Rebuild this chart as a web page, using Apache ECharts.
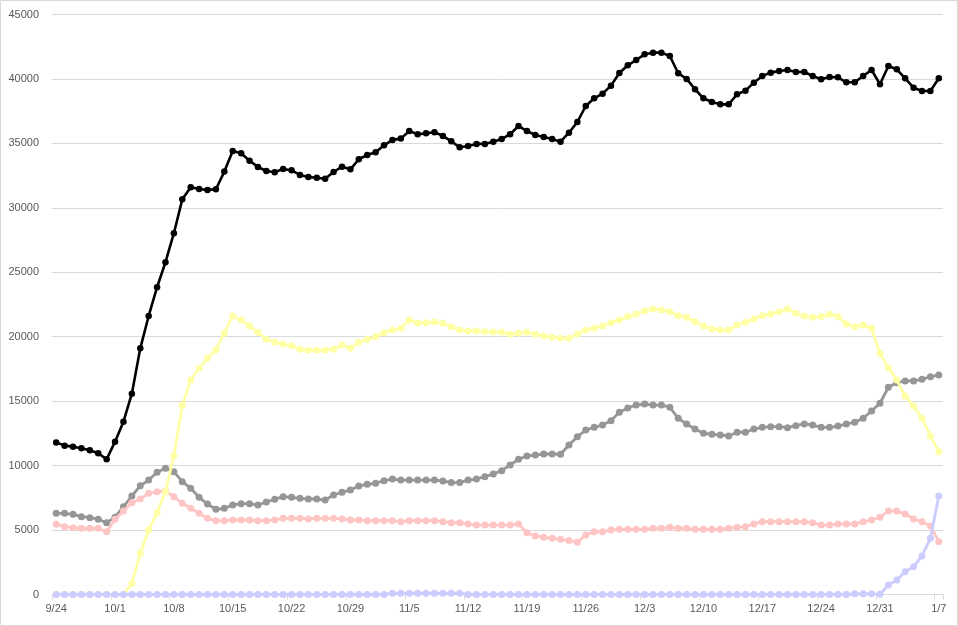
<!DOCTYPE html>
<html>
<head>
<meta charset="utf-8">
<script src="https://cdn.jsdelivr.net/npm/echarts@6/dist/echarts.min.js"></script>
<style>
html,body{margin:0;padding:0;background:#fff;}
#chart{width:958px;height:626px;}
</style>
</head>
<body>
<div id="chart"></div>
<script>
const categories = [
  "9/24","9/25","9/26","9/27","9/28","9/29","9/30",
  "10/1","10/2","10/3","10/4","10/5","10/6","10/7","10/8","10/9","10/10","10/11","10/12","10/13","10/14","10/15","10/16","10/17","10/18","10/19","10/20","10/21","10/22","10/23","10/24","10/25","10/26","10/27","10/28","10/29","10/30","10/31",
  "11/1","11/2","11/3","11/4","11/5","11/6","11/7","11/8","11/9","11/10","11/11","11/12","11/13","11/14","11/15","11/16","11/17","11/18","11/19","11/20","11/21","11/22","11/23","11/24","11/25","11/26","11/27","11/28","11/29","11/30",
  "12/1","12/2","12/3","12/4","12/5","12/6","12/7","12/8","12/9","12/10","12/11","12/12","12/13","12/14","12/15","12/16","12/17","12/18","12/19","12/20","12/21","12/22","12/23","12/24","12/25","12/26","12/27","12/28","12/29","12/30","12/31",
  "1/1","1/2","1/3","1/4","1/5","1/6","1/7"
];

const yTicks = [0, 5000, 10000, 15000, 20000, 25000, 30000, 35000, 40000, 45000];

const blackValues = [
  11800,11550,11470,11340,11190,10960,10490,
  11860,13410,15580,19100,21610,23840,25780,28030,30660,31590,31460,31390,31440,32810,34410,34230,33660,33170,32860,32760,33020,32910,32550,32390,32340,32260,32780,33190,32990,33770,34100,
  34310,34850,35270,35370,35960,35710,35780,35860,35580,35160,34700,34800,34960,34960,35130,35340,35710,36350,35960,35650,35500,35340,35130,35830,36660,37900,38500,38860,39480,40460,
  41060,41470,41910,42040,42040,41780,40440,40000,39200,38500,38210,38030,38030,38810,39090,39710,40230,40490,40620,40700,40540,40540,40230,39970,40150,40130,39740,39740,40230,40700,39590,
  41010,40750,40050,39320,39070,39070,40050
];

const yellowValues = [
  0,0,0,0,0,0,0,
  0,0,870,3200,5000,6350,8000,10750,14680,16640,17550,18330,18970,20270,21610,21300,20830,20340,19800,19570,19410,19300,19030,18950,18950,18950,19030,19360,19100,19570,19800,
  20000,20310,20520,20650,21300,21040,21090,21140,21040,20780,20520,20450,20450,20390,20370,20340,20190,20270,20340,20190,20060,19960,19880,19880,20210,20520,20650,20830,21090,21300,
  21560,21760,22000,22150,22070,21940,21630,21510,21170,20830,20600,20520,20520,20910,21120,21380,21630,21760,21940,22150,21820,21610,21510,21560,21740,21560,20990,20780,20910,20650,18710,
  17600,16640,15400,14630,13670,12300,11080
];

const grayValues = [
  6300,6300,6220,6040,5960,5840,5570,
  6000,6810,7640,8440,8880,9480,9790,9530,8750,8240,7540,7020,6610,6690,6940,7050,7050,6940,7180,7390,7590,7540,7460,7410,7410,7330,7720,7930,8110,8420,8550,
  8630,8830,8960,8880,8880,8880,8880,8880,8810,8680,8680,8880,8960,9140,9350,9610,10050,10490,10750,10820,10900,10900,10880,11600,12240,12760,12970,13150,13490,14140,
  14470,14700,14780,14700,14700,14530,13670,13230,12840,12510,12430,12380,12300,12590,12590,12840,12970,13020,13020,12940,13100,13230,13150,12970,12970,13070,13230,13360,13670,14240,14840,
  16080,16430,16570,16570,16700,16900,17030
];

const pinkValues = [
  5450,5260,5180,5140,5140,5140,4870,
  5830,6480,7120,7410,7850,7980,8030,7590,7080,6690,6300,5910,5730,5730,5780,5780,5780,5730,5730,5780,5910,5910,5910,5860,5910,5910,5910,5860,5780,5780,5730,
  5730,5730,5730,5650,5730,5730,5730,5730,5650,5570,5570,5470,5390,5390,5390,5390,5390,5470,4800,4540,4440,4360,4280,4180,4050,4620,4870,4870,5000,5060,
  5060,5060,5060,5140,5140,5210,5140,5140,5060,5060,5060,5060,5140,5210,5260,5470,5650,5650,5650,5650,5650,5650,5570,5390,5390,5470,5470,5470,5650,5780,5990,
  6480,6480,6250,5860,5650,5320,4100
];

const lavenderValues = [
  0,0,0,0,0,0,0,
  0,0,0,0,0,0,0,0,0,0,0,0,0,0,0,0,0,0,0,0,0,0,0,0,0,0,0,0,0,0,0,
  0,0,100,100,100,100,100,100,100,100,100,0,0,0,0,0,0,0,0,0,0,0,0,0,0,0,0,0,0,0,
  0,0,0,0,0,0,0,0,0,0,0,0,0,0,0,0,0,0,0,0,0,0,0,0,0,0,0,50,50,50,20,
  740,1130,1770,2160,2990,4360,7640
];

const chart = echarts.init(document.getElementById('chart'), null, {renderer: 'canvas'});

function lineSeries(name, data, color, width, size, z) {
  return {
    name: name,
    type: 'line',
    data: data,
    symbol: 'circle',
    symbolSize: size,
    showSymbol: true,
    showAllSymbol: true,
    lineStyle: {color: color, width: width},
    itemStyle: {color: color, borderWidth: 0},
    emphasis: {disabled: true},
    z: z,
    animation: false
  };
}

const option = {
  animation: false,
  backgroundColor: '#ffffff',
  textStyle: {fontFamily: 'Liberation Sans, Arial, sans-serif'},
  graphic: [{
    type: 'rect',
    shape: {x: 0.5, y: 0.5, width: 957, height: 625},
    style: {fill: 'none', stroke: '#d9d9d9', lineWidth: 1},
    silent: true
  }],
  grid: {left: 52, right: 15, top: 14.5, bottom: 31.5, containLabel: false},
  xAxis: {
    type: 'category',
    data: categories,
    boundaryGap: true,
    axisLine: {show: true, lineStyle: {color: '#d9d9d9', width: 1}},
    axisTick: {show: true, interval: 6, length: 5, lineStyle: {color: '#d9d9d9'}},
    axisLabel: {interval: 6, color: '#595959', fontSize: 11, margin: 9, fontFamily: 'Liberation Sans'},
    splitLine: {show: false}
  },
  yAxis: {
    type: 'value',
    min: yTicks[0],
    max: yTicks[yTicks.length - 1],
    interval: yTicks[1] - yTicks[0],
    axisLine: {show: false},
    axisTick: {show: false},
    axisLabel: {color: '#595959', fontSize: 11, margin: 13, fontFamily: 'Liberation Sans',
      formatter: function (v) { return String(v); }},
    splitLine: {show: true, lineStyle: {color: '#d9d9d9', width: 1}}
  },
  series: [
    lineSeries('gray', grayValues, '#969696', 2.8, 7, 2),
    lineSeries('pink', pinkValues, '#ffc5c5', 2.8, 7, 3),
    lineSeries('yellow', yellowValues, '#ffffa6', 2.8, 7, 4),
    lineSeries('lavender', lavenderValues, '#ccccff', 2.8, 7, 5),
    lineSeries('black', blackValues, '#000000', 2.6, 6.5, 6)
  ]
};

chart.setOption(option);
</script>
</body>
</html>
